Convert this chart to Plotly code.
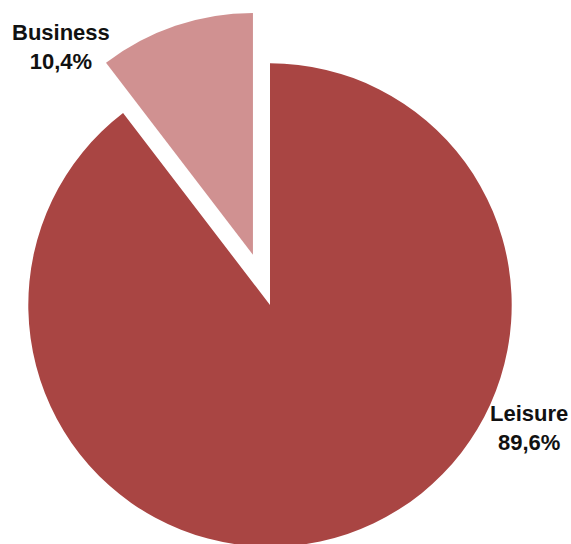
import math
import plotly.graph_objects as go

# Trip purpose shares (%)
labels = ["Business", "Leisure"]
shares = [10.4, 89.6]
colors = ["#D09191", "#A94543"]
pulled = [0.22, 0.0]  # fraction of the radius each slice is moved outward

W, H = 571, 548
CX, CY, R = 270.0, 305.0, 241.7  # pie centre and radius in pixels
TRANSPARENT = "rgba(0,0,0,0)"


def pie_domain(cx, cy):
    return dict(x=[(cx - R) / W, (cx + R) / W],
                y=[1 - (cy + R) / H, 1 - (cy - R) / H])


fig = go.Figure()

# Each slice is drawn by its own trace so that a pulled-out slice keeps the
# full radius; the slice is shifted along its mid-angle by pull * radius.
# Slices run counter-clockwise (towards the left) from 12 o'clock.
total = sum(shares)
start = 0.0
for i, (lab, val) in enumerate(zip(labels, shares)):
    mid = (start + val / 2) / total * 2 * math.pi
    start += val
    shift = pulled[i] * R
    cx = CX - math.sin(mid) * shift
    cy = CY - math.cos(mid) * shift
    slice_colors = [colors[j] if j == i else TRANSPARENT for j in range(len(labels))]
    fig.add_trace(go.Pie(
        labels=labels,
        values=shares,
        sort=False,
        direction="clockwise",
        rotation=-shares[0] / total * 360,
        marker=dict(colors=slice_colors, line=dict(width=0)),
        textinfo="none",
        hoverinfo="skip",
        showlegend=False,
        domain=pie_domain(cx, cy),
    ))

# Category labels with their shares
label_pos = {"Business": (60.5, 47.0), "Leisure": (528.5, 428.0)}
for lab, val in zip(labels, shares):
    px, py = label_pos[lab]
    txt = f"{lab}<br>{val:.1f}%".replace(".", ",")
    fig.add_annotation(
        x=px / W, y=1 - py / H, xref="paper", yref="paper",
        text=f"<b>{txt}</b>", showarrow=False,
        xanchor="center", yanchor="middle", align="center",
        font=dict(family="Liberation Sans, Arial, sans-serif", size=22, color="#111111"),
    )

fig.update_layout(
    width=W, height=H,
    margin=dict(l=0, r=0, t=0, b=0),
    paper_bgcolor="white", plot_bgcolor="white",
    showlegend=False,
)

fig.write_html(
    "out.html",
    config={"displayModeBar": False},
    post_script="document.documentElement.style.overflow='hidden';"
                "document.body.style.overflow='hidden';document.body.style.margin='0';",
)
